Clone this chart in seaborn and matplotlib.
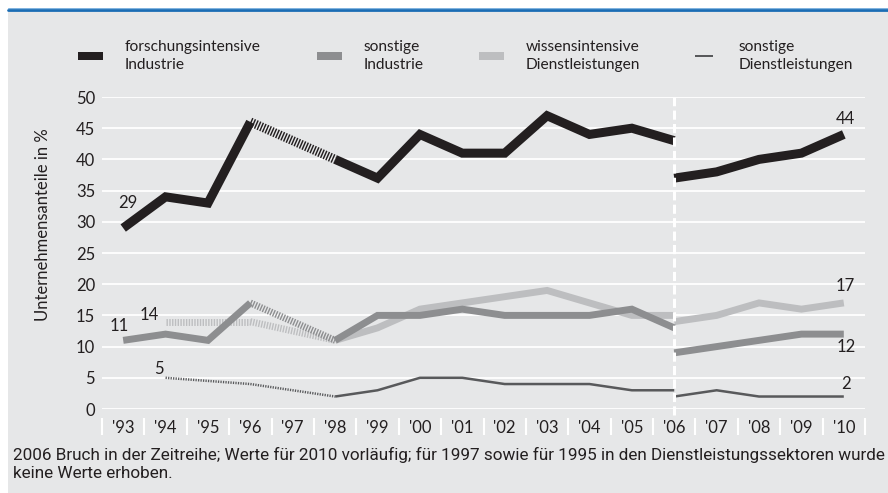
import numpy as np
import pandas as pd
import matplotlib
matplotlib.use("Agg")
import matplotlib.pyplot as plt
import seaborn as sns
from matplotlib.patches import Rectangle
from matplotlib.lines import Line2D

# Daten, None = kein Wert erhoben
jahre = ["'93", "'94", "'95", "'96", "'97", "'98", "'99", "'00", "'01",
         "'02", "'03", "'04", "'05", "'06", "'07", "'08", "'09", "'10"]

# bis 2006 alte Zeitreihe, ab 2006 neue Zeitreihe
fi_alt = [29, 34, 33, 46, None, 40, 37, 44, 41, 41, 47, 44, 45, 43]
fi_neu = [37, 38, 40, 41, 44]
si_alt = [11, 12, 11, 17, None, 11, 15, 15, 16, 15, 15, 15, 16, 13]
si_neu = [9, 10, 11, 12, 12]
wd_alt = [None, 14, None, 14, None, 11, 13, 16, 17, 18, 19, 17, 15, 15]
wd_neu = [14, 15, 17, 16, 17]
sd_alt = [None, 5, None, 4, None, 2, 3, 5, 5, 4, 4, 4, 3, 3]
sd_neu = [2, 3, 2, 2, 2]

namen = ["forschungsintensive\nIndustrie", "sonstige\nIndustrie",
         "wissensintensive\nDienstleistungen", "sonstige\nDienstleistungen"]

# Beschriftungen: (Serie, Jahr-Index, Text)
labels = [(0, 0, "29"), (1, 0, "11"), (2, 1, "14"), (3, 1, "5"),
          (0, 17, "44"), (2, 17, "17"), (1, 17, "12"), (3, 17, "2")]

farben = ["#231f20", "#8d8e90", "#bdbec0", "#58595b"]
breiten = [6.5, 5.0, 5.0, 1.8]
muster = [(0.16, 0.16), (0.2, 0.2), (0.2, 0.2), (0.5, 0.5)]
offsets = {"29": (3, 18), "11": (-3, 10), "14": (-12, 5), "5": (-5, 6.5),
           "44": (1, 11), "17": (1, 12), "12": (1.5, -9.5), "2": (1.5, 9)}

BG = "#e6e7e8"
TXT = "#231f20"
W, H = 888, 493
FS = 12

sns.set_style("white")
plt.rcParams["font.family"] = ["Lato", "DejaVu Sans"]


def fx(px):
    return px / W


def fy(py):
    return 1 - py / H


fig = plt.figure(figsize=(W / 100, H / 100), dpi=100)
fig.patch.set_facecolor("white")

# grauer Hintergrund + blaue Linie oben
fig.add_artist(Rectangle((fx(8), 0), 1 - fx(8), fy(11), transform=fig.transFigure,
                         facecolor=BG, edgecolor="none", zorder=0))
fig.add_artist(Line2D([fx(8), 1], [fy(9.8), fy(9.8)], transform=fig.transFigure,
                      color="#1a6db5", lw=2.0))
fig.add_artist(Line2D([fx(8), 1], [fy(8.3), fy(8.3)], transform=fig.transFigure,
                      color="#7fb2de", lw=0.7))

ax = fig.add_axes([fx(102), fy(409), fx(865) - fx(102), fy(97) - fy(409)])
ax.set_facecolor("none")
ax.set_xlim(-0.5, 17.5)
ax.set_ylim(0, 50)
for s in ax.spines.values():
    s.set_visible(False)

ax.set_yticks(range(0, 51, 5))
ax.yaxis.grid(True, color="white", lw=1.3)
ax.xaxis.grid(False)
ax.set_axisbelow(True)
ax.tick_params(axis="y", length=0, pad=5, labelsize=FS, labelcolor=TXT)
ax.set_xticks(range(len(jahre)))
ax.set_xticklabels(jahre)
ax.tick_params(axis="x", length=0, pad=8, labelsize=FS, labelcolor=TXT)

# Trennstriche zwischen den Jahren
ax.vlines(np.arange(-0.5, len(jahre), 1), -0.029, -0.083,
          transform=ax.get_xaxis_transform(), colors="white", lw=1.5, clip_on=False)


def zeichne(werte, start, farbe, lw, dash, z):
    s = pd.Series(werte, index=range(start, start + len(werte)), dtype=float)
    gruppe = s.isna().cumsum()
    df = pd.DataFrame({"x": s.index, "y": s.values, "g": gruppe.values}).dropna()
    for _, teil in df.groupby("g"):
        if len(teil) > 1:
            sns.lineplot(data=teil, x="x", y="y", ax=ax, color=farbe, lw=lw,
                         estimator=None, sort=False, legend=False, zorder=z,
                         solid_capstyle="butt", solid_joinstyle="miter")
    # Lücken schraffiert überbrücken
    g = s.dropna()
    for a, b in zip(g.index[:-1], g.index[1:]):
        if b - a > 1:
            ax.plot([a, b], [g[a], g[b]], color=farbe, lw=lw, dashes=dash,
                    dash_capstyle="butt", zorder=z)


reihen = [(fi_alt, fi_neu), (si_alt, si_neu), (wd_alt, wd_neu), (sd_alt, sd_neu)]
zorders = [5, 4, 3, 2]
for i, (alt, neu) in enumerate(reihen):
    zeichne(alt, 0, farben[i], breiten[i], muster[i], zorders[i])
    zeichne(neu, 13, farben[i], breiten[i], muster[i], zorders[i])

ax.set_xlabel("")
ax.set_ylabel("Unternehmensanteile in %", fontsize=FS, color=TXT)
ax.yaxis.set_label_coords(-0.067, 0.59)

# Bruch 2006
ax.axvline(13, ymin=-0.02, ymax=1.0, color="white", lw=2.2, dashes=(3, 1.4),
           clip_on=False, zorder=10)

# Werte-Beschriftungen
for serie, idx, text in labels:
    alt, neu = reihen[serie]
    wert = alt[idx] if idx < 13 else neu[idx - 13]
    ax.annotate(text, xy=(idx, wert), xytext=offsets[text], textcoords="offset points",
                ha="center", va="center", fontsize=FS, color=TXT, zorder=11)

# Legende
marker_x = [78, 317, 479, 695]
marker_w = [25, 25, 25, 18]
marker_h = [8, 8, 7, 2.6]
text_x = [125, 364, 526, 739]
for i in range(4):
    fig.add_artist(Rectangle((fx(marker_x[i]), fy(56 + marker_h[i] / 2)),
                             fx(marker_w[i]), marker_h[i] / H, transform=fig.transFigure,
                             facecolor=farben[i], edgecolor="none"))
    fig.text(fx(text_x[i]), fy(56), namen[i], ha="left", va="center",
             fontsize=11.2, color=TXT, linespacing=1.3)

# Fußnote
fig.text(fx(13), fy(464),
         "2006 Bruch in der Zeitreihe; Werte für 2010 vorläufig; für 1997 sowie für 1995 "
         "in den Dienstleistungssektoren wurde\nkeine Werte erhoben.",
         ha="left", va="center", fontsize=12.3, color=TXT, linespacing=1.2,
         family=["Liberation Sans Narrow", "Roboto", "DejaVu Sans"])

fig.savefig("out.png", dpi=100, facecolor=fig.get_facecolor())
